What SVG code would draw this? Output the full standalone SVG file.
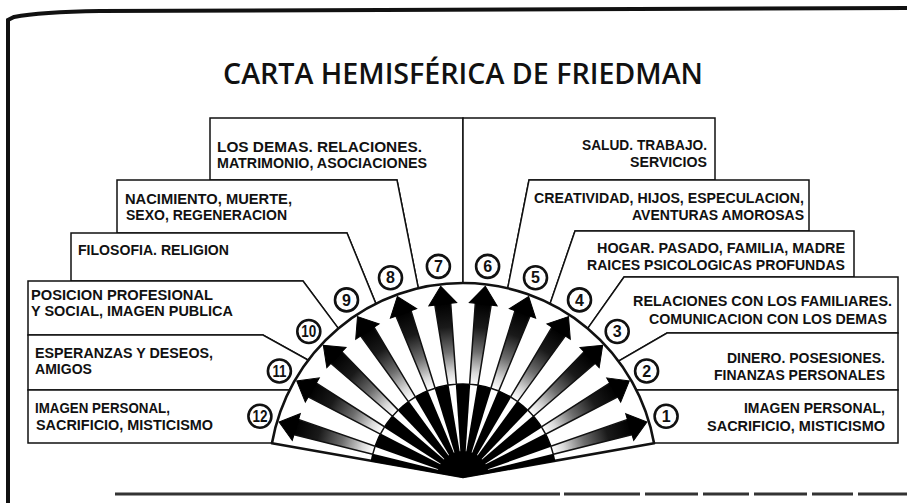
<svg xmlns="http://www.w3.org/2000/svg" xmlns:xlink="http://www.w3.org/1999/xlink" width="907" height="503" viewBox="0 0 907 503">
  <style>
    .box { fill: #fff; stroke: #111; stroke-width: 1.5; stroke-linejoin: miter; }
    .lbl { font-family: "Liberation Sans", "DejaVu Sans Condensed", sans-serif; font-weight: bold; font-size: 14px; fill: #111; }
    .end { text-anchor: end; }
    .num circle { fill: #fff; stroke: #111; stroke-width: 2.6; }
    .num text { font-family: "Liberation Sans", "DejaVu Sans Condensed", sans-serif; font-weight: bold; font-size: 16px; fill: #111; text-anchor: middle; }
    .title { font-family: "Open Sans", "Lato", "Liberation Sans", sans-serif; font-weight: 600; font-size: 28px; fill: #111; }
  </style>
  <defs>
    <linearGradient id="shaftGrad" x1="0" y1="0" x2="0" y2="1">
      <stop offset="0" stop-color="#000"/>
      <stop offset="0.3" stop-color="#1a1a1a"/>
      <stop offset="0.6" stop-color="#6e6e6e"/>
      <stop offset="0.85" stop-color="#d8d8d8"/>
      <stop offset="1" stop-color="#fff"/>
    </linearGradient>
    <g id="arrow">
      <polygon points="-3.6,-93 3.6,-93 0.3,-26 -0.3,-26" fill="#fff"/>
      <polygon points="-4.2,-93 -8,-175 8,-175 4.2,-93" fill="url(#shaftGrad)" stroke="#111" stroke-width="1.5"/>
      <polygon points="-14,-174 0,-192 14,-174" fill="#000" stroke="#000" stroke-width="1" stroke-linejoin="miter"/>
    </g>
  </defs>

  <rect width="907" height="503" fill="#fff"/>

  <g id="frame" fill="none" stroke="#111">
    <path d="M8,503 V20 L14,17 Q40,12 100,11 L907,8" stroke-width="4"/>
    <path d="M115,494 H560 M564,494 H640 M645,494 H698 M703,494 H749 M754,494 H807 M812,494 H853 M858,494 H907" stroke="#333" stroke-width="3"/>
  </g>

  <g id="title">
    <text class="title" x="223" y="84" textLength="480" lengthAdjust="spacingAndGlyphs">CARTA HEMISFÉRICA DE FRIEDMAN</text>
  </g>

  <g id="house-7">
    <path class="box" d="M210,118 H463 V283 L418.3,288.2 L397,180 H210 Z"/>
    <text class="lbl" x="217" y="152" textLength="205" lengthAdjust="spacingAndGlyphs">LOS DEMAS. RELACIONES.</text>
    <text class="lbl" x="217" y="168" textLength="210" lengthAdjust="spacingAndGlyphs">MATRIMONIO, ASOCIACIONES</text>
    <g class="num"><circle cx="438.4" cy="266.4" r="11.5"/><text x="438.4" y="272">7</text></g>
  </g>
  <g id="house-6">
    <path class="box" d="M463,118 H715 V180 H529 L507.7,288.2 L463,283 Z"/>
    <text class="lbl end" x="707" y="150" textLength="125" lengthAdjust="spacingAndGlyphs">SALUD. TRABAJO.</text>
    <text class="lbl end" x="707" y="167" textLength="77" lengthAdjust="spacingAndGlyphs">SERVICIOS</text>
    <g class="num"><circle cx="487.6" cy="266.4" r="11.5"/><text x="487.6" y="272">6</text></g>
  </g>
  <g id="house-8">
    <path class="box" d="M117,180 H397 L418.3,288.2 L375.9,303.6 L347,233 H117 Z"/>
    <text class="lbl" x="125" y="204" textLength="167" lengthAdjust="spacingAndGlyphs">NACIMIENTO, MUERTE,</text>
    <text class="lbl" x="126" y="220" textLength="161" lengthAdjust="spacingAndGlyphs">SEXO, REGENERACION</text>
    <g class="num"><circle cx="390.5" cy="277.8" r="11.5"/><text x="390.5" y="283.4">8</text></g>
  </g>
  <g id="house-9">
    <path class="box" d="M71,233 H347 L375.9,303.6 L338.3,328.4 L303,281 H71 Z"/>
    <text class="lbl" x="78" y="255" textLength="151" lengthAdjust="spacingAndGlyphs">FILOSOFIA. RELIGION</text>
    <g class="num"><circle cx="346.5" cy="299.9" r="11.5"/><text x="346.5" y="305.5">9</text></g>
  </g>
  <g id="house-10">
    <path class="box" d="M28,281 H303 L338.3,328.4 L308,360 L263,335 H28 Z"/>
    <text class="lbl" x="31" y="300" textLength="182" lengthAdjust="spacingAndGlyphs">POSICION PROFESIONAL</text>
    <text class="lbl" x="31" y="316" textLength="202" lengthAdjust="spacingAndGlyphs">Y SOCIAL, IMAGEN PUBLICA</text>
    <g class="num"><circle cx="308.8" cy="331.5" r="11.5"/><text x="308.8" y="337.1" textLength="15" lengthAdjust="spacingAndGlyphs">10</text></g>
  </g>
  <g id="house-11">
    <path class="box" d="M28,335 H263 L308,360 L289.6,390 H28 Z"/>
    <text class="lbl" x="35" y="358" textLength="178" lengthAdjust="spacingAndGlyphs">ESPERANZAS Y DESEOS,</text>
    <text class="lbl" x="35" y="374" textLength="57" lengthAdjust="spacingAndGlyphs">AMIGOS</text>
    <g class="num"><circle cx="279.4" cy="371" r="11.5"/><text x="279.4" y="376.6" textLength="14" lengthAdjust="spacingAndGlyphs">11</text></g>
  </g>
  <g id="house-12">
    <path class="box" d="M28,390 H289.6 L272,443 H28 Z"/>
    <text class="lbl" x="35" y="413" textLength="135" lengthAdjust="spacingAndGlyphs">IMAGEN PERSONAL,</text>
    <text class="lbl" x="36" y="430" textLength="177" lengthAdjust="spacingAndGlyphs">SACRIFICIO, MISTICISMO</text>
    <g class="num"><circle cx="259.9" cy="416.2" r="11.5"/><text x="259.9" y="421.8" textLength="15" lengthAdjust="spacingAndGlyphs">12</text></g>
  </g>
  <g id="house-5">
    <path class="box" d="M529,180 H809 V231 H575 L550.1,303.6 L507.7,288.2 Z"/>
    <text class="lbl end" x="804" y="203" textLength="270" lengthAdjust="spacingAndGlyphs">CREATIVIDAD, HIJOS, ESPECULACION,</text>
    <text class="lbl end" x="804" y="220" textLength="172" lengthAdjust="spacingAndGlyphs">AVENTURAS AMOROSAS</text>
    <g class="num"><circle cx="535.5" cy="277.8" r="11.5"/><text x="535.5" y="283.4">5</text></g>
  </g>
  <g id="house-4">
    <path class="box" d="M575,231 H854 V277 H624 L587.7,328.4 L550.1,303.6 Z"/>
    <text class="lbl end" x="845" y="253" textLength="248" lengthAdjust="spacingAndGlyphs">HOGAR. PASADO, FAMILIA, MADRE</text>
    <text class="lbl end" x="845" y="270" textLength="258" lengthAdjust="spacingAndGlyphs">RAICES PSICOLOGICAS PROFUNDAS</text>
    <g class="num"><circle cx="579.5" cy="299.9" r="11.5"/><text x="579.5" y="305.5">4</text></g>
  </g>
  <g id="house-3">
    <path class="box" d="M624,277 H898 V333 H667 L618.6,361.1 L587.7,328.4 Z"/>
    <text class="lbl end" x="892" y="306" textLength="259" lengthAdjust="spacingAndGlyphs">RELACIONES CON LOS FAMILIARES.</text>
    <text class="lbl end" x="887" y="324" textLength="238" lengthAdjust="spacingAndGlyphs">COMUNICACION CON LOS DEMAS</text>
    <g class="num"><circle cx="617.2" cy="331.5" r="11.5"/><text x="617.2" y="337.1">3</text></g>
  </g>
  <g id="house-2">
    <path class="box" d="M667,333 H898 V390 H636.4 L618.6,361.1 Z"/>
    <text class="lbl end" x="885" y="363" textLength="158" lengthAdjust="spacingAndGlyphs">DINERO. POSESIONES.</text>
    <text class="lbl end" x="885" y="380" textLength="171" lengthAdjust="spacingAndGlyphs">FINANZAS PERSONALES</text>
    <g class="num"><circle cx="646.6" cy="371" r="11.5"/><text x="646.6" y="376.6">2</text></g>
  </g>
  <g id="house-1">
    <path class="box" d="M636.4,390 H898 V443 H654.1 Z"/>
    <text class="lbl end" x="885" y="413" textLength="141" lengthAdjust="spacingAndGlyphs">IMAGEN PERSONAL,</text>
    <text class="lbl end" x="885" y="431" textLength="178" lengthAdjust="spacingAndGlyphs">SACRIFICIO, MISTICISMO</text>
    <g class="num"><circle cx="666.1" cy="416.2" r="11.5"/><text x="666.1" y="421.8">1</text></g>
  </g>

  <g id="fan">
    <path d="M463,477 L654.05,443.31 A194,194 0 0 0 271.95,443.31 Z" fill="#fff" stroke="#111" stroke-width="2.6" stroke-linejoin="round"/>
    <path d="M463,477 L554.59,460.85 A93,93 0 0 0 371.41,460.85 Z" fill="#000" stroke="#000" stroke-width="1.5" stroke-linejoin="round"/>
  </g>

  <g id="connectors">
    <use xlink:href="#arrow" transform="translate(463,477) rotate(73.33)"/>
    <use xlink:href="#arrow" transform="translate(463,477) rotate(60)"/>
    <use xlink:href="#arrow" transform="translate(463,477) rotate(46.67)"/>
    <use xlink:href="#arrow" transform="translate(463,477) rotate(33.33)"/>
    <use xlink:href="#arrow" transform="translate(463,477) rotate(20)"/>
    <use xlink:href="#arrow" transform="translate(463,477) rotate(6.67)"/>
    <use xlink:href="#arrow" transform="translate(463,477) rotate(-6.67)"/>
    <use xlink:href="#arrow" transform="translate(463,477) rotate(-20)"/>
    <use xlink:href="#arrow" transform="translate(463,477) rotate(-33.33)"/>
    <use xlink:href="#arrow" transform="translate(463,477) rotate(-46.67)"/>
    <use xlink:href="#arrow" transform="translate(463,477) rotate(-60)"/>
    <use xlink:href="#arrow" transform="translate(463,477) rotate(-73.33)"/>
  </g>
</svg>
